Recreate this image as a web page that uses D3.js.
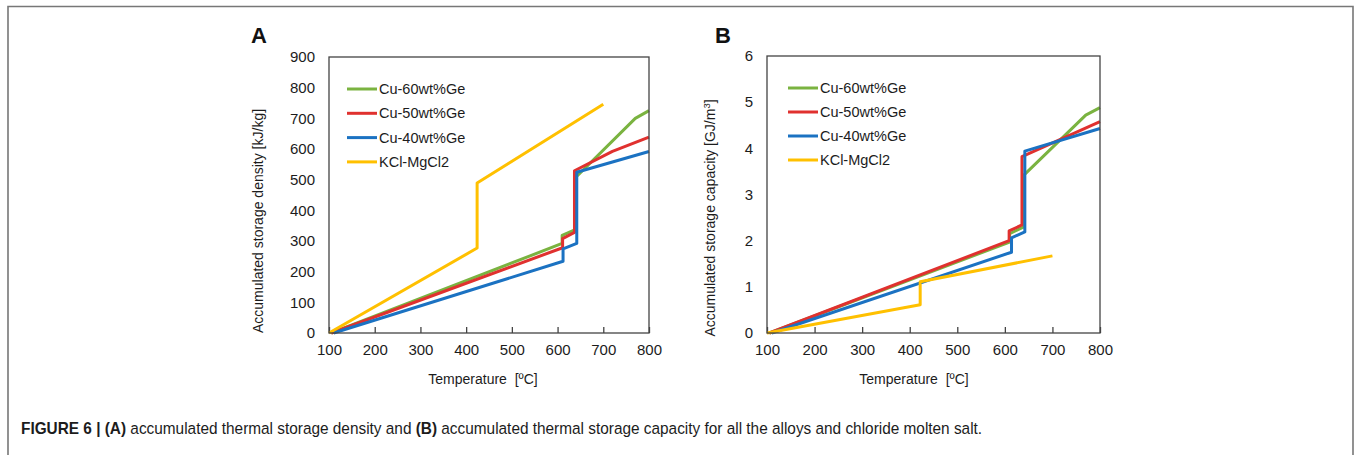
<!DOCTYPE html>
<html>
<head>
<meta charset="utf-8">
<script src="https://cdn.jsdelivr.net/npm/d3@7"></script>
<style>
  html, body { margin: 0; padding: 0; background: #fff; }
  svg { display: block; font-family: "Liberation Sans", Arial, Helvetica, sans-serif; }
</style>
</head>
<body>
<svg id="chart" width="1354" height="455"></svg>
<script>
// ---------------- DATA ----------------
const seriesNames = ["Cu-60wt%Ge", "Cu-50wt%Ge", "Cu-40wt%Ge", "KCl-MgCl2"];
const seriesColors = ["#7ab340", "#e0312f", "#1b72c2", "#ffc000"];
const xTicks = [100, 200, 300, 400, 500, 600, 700, 800];
const yTicksA = [0, 100, 200, 300, 400, 500, 600, 700, 800, 900];
const yTicksB = [0, 1, 2, 3, 4, 5, 6];

// Panel A: accumulated storage density [kJ/kg]
const cu60A_T = [105, 610, 610, 640, 640, 770, 800];
const cu60A_V = [0, 292, 318, 338, 508, 700, 725];
const cu50A_T = [105, 611, 611, 637, 637, 720, 800];
const cu50A_V = [0, 278, 308, 328, 529, 592, 639];
const cu40A_T = [110, 612, 612, 642, 642, 800];
const cu40A_V = [0, 234, 274, 292, 524, 592];
const kclA_T = [100, 424, 424, 700];
const kclA_V = [0, 277, 489, 746];

// Panel B: accumulated storage capacity [GJ/m3]
const cu60B_T = [105, 610, 610, 640, 640, 770, 800];
const cu60B_V = [0, 1.97, 2.15, 2.30, 3.42, 4.72, 4.88];
const cu50B_T = [105, 609, 609, 636, 636, 800];
const cu50B_V = [0, 2.00, 2.21, 2.34, 3.82, 4.58];
const cu40B_T = [110, 614, 614, 642, 642, 800];
const cu40B_V = [0, 1.75, 2.06, 2.19, 3.94, 4.43];
const kclB_T = [100, 422, 422, 700];
const kclB_V = [0, 0.61, 1.11, 1.67];

// ---------------- DRAW ----------------
const svg = d3.select("#chart");
const FONT = '"Liberation Sans", Arial, Helvetica, sans-serif';
const textColor = "#1c1c1c";

// figure frame
svg.append("path")
  .attr("d", "M8,460 L8,6.5 L1353,6.5 L1353,460")
  .attr("fill", "none").attr("stroke", "#777").attr("stroke-width", 1.6);

function zip(T, V) { return T.map((t, i) => [t, V[i]]); }

function panel(cfg) {
  const g = svg.append("g");
  const x = d3.scaleLinear().domain([100, 800]).range([cfg.left, cfg.right]);
  const y = d3.scaleLinear().domain(cfg.yDomain).range([cfg.bottom, cfg.top]);

  // x axis (ticks inside)
  const xAxis = d3.axisBottom(x).tickValues(xTicks).tickSize(-6).tickPadding(11).tickFormat(d3.format("d"));
  const gx = g.append("g").attr("transform", `translate(0,${cfg.bottom})`).call(xAxis);
  gx.select(".domain").remove();
  gx.selectAll(".tick line").attr("stroke", "#444").attr("stroke-width", 1.3);
  gx.selectAll(".tick text").attr("fill", textColor).style("font-size", "15px").style("font-family", FONT);

  const yAxis = d3.axisLeft(y).tickValues(cfg.yTicks).tickSize(0).tickPadding(14).tickFormat(d3.format("d"));
  const gy = g.append("g").attr("transform", `translate(${cfg.left},0)`).call(yAxis);
  gy.select(".domain").remove();
  gy.selectAll(".tick text").attr("fill", textColor).style("font-size", "15px").style("font-family", FONT);

  // lines
  const line = d3.line().x(d => x(d[0])).y(d => y(d[1]));
  cfg.series.forEach((s, i) => {
    g.append("path").datum(zip(s[0], s[1]))
      .attr("d", line).attr("fill", "none")
      .attr("stroke", seriesColors[i]).attr("stroke-width", 3)
      .attr("stroke-linejoin", "round");
  });

  // plot frame
  g.append("rect")
    .attr("x", cfg.left).attr("y", cfg.top)
    .attr("width", cfg.right - cfg.left).attr("height", cfg.bottom - cfg.top)
    .attr("fill", "none").attr("stroke", "#444").attr("stroke-width", 1.3);

  // legend
  seriesNames.forEach((n, i) => {
    const ly = cfg.legendY + i * cfg.legendStep;
    g.append("line")
      .attr("x1", cfg.legendX).attr("x2", cfg.legendX + 30)
      .attr("y1", ly).attr("y2", ly)
      .attr("stroke", seriesColors[i]).attr("stroke-width", 3);
    g.append("text")
      .attr("x", cfg.legendX + 32).attr("y", ly + 5)
      .attr("fill", textColor).style("font-size", "14.5px").text(n);
  });

  // panel letter
  g.append("text").attr("x", cfg.letterX).attr("y", 43)
    .style("font-size", "22px").style("font-weight", "bold").attr("fill", "#111")
    .text(cfg.letter);

  // x title
  g.append("text").attr("x", cfg.xTitleX).attr("y", 384)
    .attr("text-anchor", "middle").attr("fill", textColor).style("font-size", "14px")
    .attr("xml:space", "preserve")
    .text("Temperature  [ºC]");

  // y title
  const yt = g.append("text")
    .attr("transform", `translate(${cfg.yTitleX},${cfg.yTitleY}) rotate(-90)`)
    .attr("text-anchor", "middle").attr("fill", textColor).style("font-size", "14px");
  yt.append("tspan").text(cfg.yTitle);
  if (cfg.yTitleSup) {
    yt.append("tspan").attr("dy", -5).style("font-size", "9.5px").text(cfg.yTitleSup);
    yt.append("tspan").attr("dy", 5).text("]");
  }
}

panel({
  left: 329, right: 649, top: 57, bottom: 333,
  yDomain: [0, 900], yTicks: yTicksA,
  series: [[cu60A_T, cu60A_V], [cu50A_T, cu50A_V], [cu40A_T, cu40A_V], [kclA_T, kclA_V]],
  legendX: 347, legendY: 89, legendStep: 24.3,
  letter: "A", letterX: 251,
  xTitleX: 483, yTitleX: 263, yTitleY: 221,
  yTitle: "Accumulated storage density [kJ/kg]"
});

panel({
  left: 767, right: 1100, top: 56, bottom: 333,
  yDomain: [0, 6], yTicks: yTicksB,
  series: [[cu60B_T, cu60B_V], [cu50B_T, cu50B_V], [cu40B_T, cu40B_V], [kclB_T, kclB_V]],
  legendX: 788, legendY: 88, legendStep: 24,
  letter: "B", letterX: 715,
  xTitleX: 914, yTitleX: 715, yTitleY: 218,
  yTitle: "Accumulated storage capacity [GJ/m", yTitleSup: "3"
});

// caption
const cap = svg.append("text").attr("x", 0).attr("y", 0)
  .attr("fill", "#1c1c1c").style("font-size", "16.5px");
cap.append("tspan").style("font-weight", "bold").text("FIGURE 6 | (A)");
cap.append("tspan").text(" accumulated thermal storage density and ");
cap.append("tspan").style("font-weight", "bold").text("(B)");
cap.append("tspan").text(" accumulated thermal storage capacity for all the alloys and chloride molten salt.");
const capW = cap.node().getComputedTextLength();
const sx = 962 / capW;
cap.attr("transform", `translate(21,434) scale(${sx},1)`);
</script>
</body>
</html>
